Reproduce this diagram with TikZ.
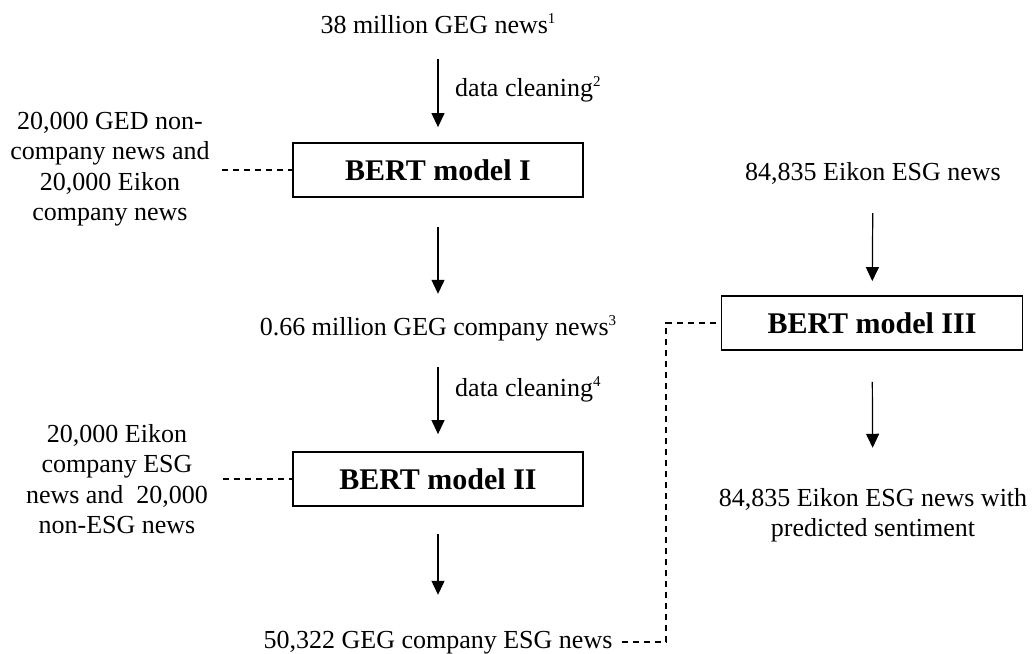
\documentclass[tikz,border=0pt]{standalone}
\usepackage{fontspec}
\setmainfont{Liberation Serif}
\usetikzlibrary{arrows.meta,positioning}
\newcommand{\noteref}[1]{\raisebox{0.36em}{\fontsize{15}{15}\selectfont #1}}

\begin{document}
\begin{tikzpicture}[
  x=1pt,y=-1pt,
  every node/.style={font=\fontsize{26}{30.5}\selectfont},
  note/.style={inner sep=0pt,text height=17pt,text depth=5pt},
  block/.style={inner sep=0pt,align=center},
  model/.style={draw=black,line width=1.8pt,minimum width=290pt,
                minimum height=54pt,inner sep=0pt,
                font=\fontsize{30}{36}\selectfont\bfseries},
  flow/.style={-{Triangle[length=14pt,width=13pt]},line width=1.2pt},
  link/.style={dash pattern=on 6pt off 5pt,line width=1.2pt}
]
\useasboundingbox (0,0) rectangle (1032,653);

% left column
\node[note] (geg) at (438,27) {38 million GEG news\noteref{1}};
\node[note,anchor=west] (cleanI) at (455,90) {data cleaning\noteref{2}};
\node[model] (bertI) at (438,170) {BERT model I};
\node[block] (trainI) at (110,169) {20,000 GED non-\\company news and\\20,000 Eikon\\company news};

\node[note] (gegco) at (438,329) {0.66 million GEG company news\noteref{3}};
\node[note,anchor=west] (cleanII) at (455,390) {data cleaning\noteref{4}};
\node[model] (bertII) at (438,479) {BERT model II};
\node[block] (trainII) at (117,479) {20,000 Eikon\\company ESG\\news and~ 20,000\\non-ESG news};

\node[note] (gegesg) at (438,642) {50,322 GEG company ESG news};

% right column
\node[note] (eikon) at (873,174) {84,835 Eikon ESG news};
\node[model,minimum width=301pt] (bertIII) at (872,323) {BERT model III};
\node[block] (result) at (873,515) {84,835 Eikon ESG news with\\predicted sentiment};
\coordinate (bend) at (666,323);

\draw[flow,shorten <=21pt,shorten >=15pt] (geg) -- (bertI);
\draw[flow,shorten <=29pt,shorten >=24pt] (bertI) -- (gegco);
\draw[flow,shorten <=27pt,shorten >=17pt] (gegco) -- (bertII);
\draw[flow,shorten <=27pt,shorten >=36pt] (bertII) -- (gegesg);
\draw[flow,shorten <=28pt,shorten >=14pt] (eikon) -- (bertIII);
\draw[flow,shorten <=31pt,shorten >=40pt] (bertIII) -- (result);

\draw[link,shorten <=12pt] (trainI.east |- bertI) -- (bertI.west);
\draw[link,shorten <=15pt] (trainII.east |- bertII) -- (bertII.west);
\draw[link,shorten <=9pt] (gegesg.east) -| (bend) -- (bertIII.west);
\end{tikzpicture}
\end{document}
